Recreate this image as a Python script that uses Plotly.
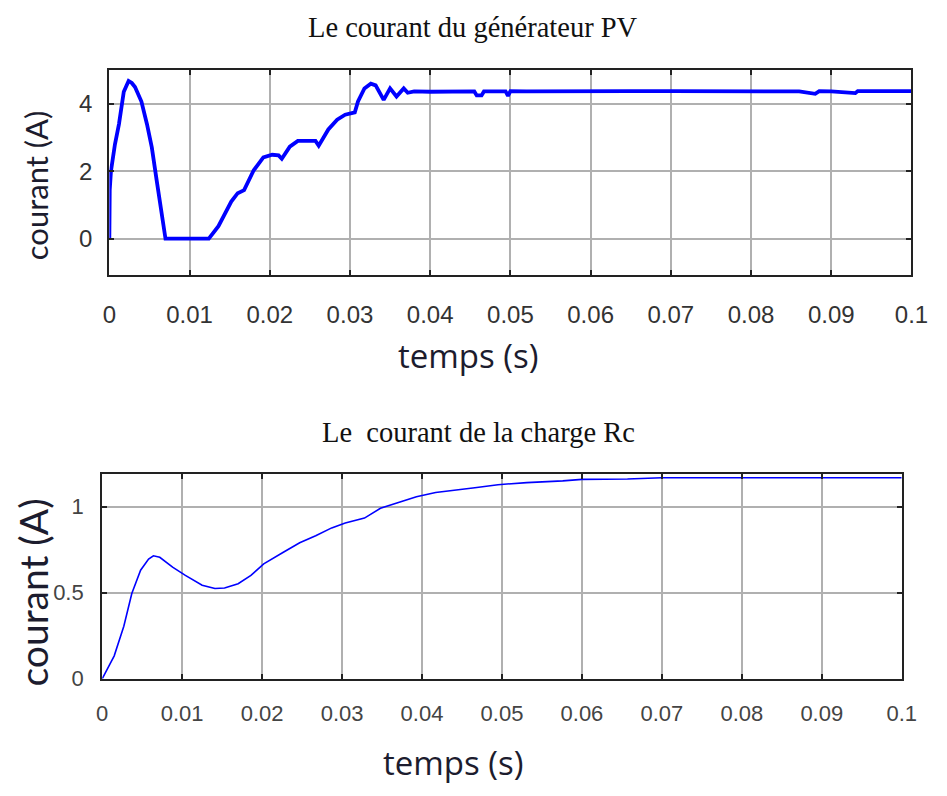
import plotly.graph_objects as go

# ---- Top chart: courant du générateur PV ----
t_pv = [0.0, 0.0, 0.00005, 0.0002, 0.0007, 0.0012, 0.0018, 0.0024, 0.0028, 0.0032,
        0.0040, 0.0047, 0.0053, 0.0059, 0.0065, 0.0070, 0.0124, 0.0136, 0.0152,
        0.0160, 0.0168, 0.0180, 0.0192, 0.0203, 0.0211, 0.0215, 0.0225, 0.0235,
        0.0257, 0.0261, 0.0273, 0.0284, 0.0294, 0.0306, 0.0310, 0.0318, 0.0326,
        0.0332, 0.0342, 0.0350, 0.0358, 0.0367, 0.0372, 0.0380, 0.0400, 0.0420,
        0.0440, 0.0455, 0.0458, 0.0464, 0.0467, 0.0480, 0.0494, 0.0497, 0.0500,
        0.0520, 0.0560, 0.0600, 0.0650, 0.0700, 0.0750, 0.0800, 0.0860, 0.0880,
        0.0885, 0.0900, 0.0930, 0.0933, 0.0960, 0.1000]
i_pv = [0.0, 0.75, 1.45, 2.0, 2.8, 3.4, 4.36, 4.68, 4.62, 4.5,
        4.07, 3.39, 2.7, 1.73, 0.86, 0.0, 0.0, 0.37, 1.1,
        1.35, 1.44, 2.03, 2.41, 2.49, 2.47, 2.37, 2.73, 2.9,
        2.9, 2.76, 3.24, 3.53, 3.68, 3.75, 4.07, 4.46, 4.6,
        4.55, 4.12, 4.46, 4.22, 4.46, 4.33, 4.37, 4.36, 4.37,
        4.36, 4.37, 4.25, 4.25, 4.37, 4.36, 4.37, 4.24, 4.38,
        4.37, 4.38, 4.37, 4.38, 4.38, 4.37, 4.38, 4.37, 4.30,
        4.38, 4.37, 4.32, 4.38, 4.37, 4.38]

# ---- Bottom chart: courant de la charge Rc ----
t_rc = [0.0, 0.0015, 0.0027, 0.0037, 0.0048, 0.0058, 0.0064, 0.0072, 0.0088,
        0.0104, 0.0125, 0.0141, 0.0153, 0.0170, 0.0186, 0.0202, 0.0226, 0.0247,
        0.0267, 0.0287, 0.0304, 0.0328, 0.0348, 0.0369, 0.0393, 0.0417, 0.0442,
        0.0466, 0.0495, 0.0531, 0.0576, 0.0600, 0.0657, 0.0700, 0.0800, 0.0900,
        0.1000]
i_rc = [0.0, 0.133, 0.305, 0.495, 0.63, 0.695, 0.714, 0.705, 0.648,
        0.60, 0.543, 0.524, 0.527, 0.552, 0.60, 0.667, 0.733, 0.79,
        0.83, 0.876, 0.905, 0.933, 0.99, 1.02, 1.057, 1.082, 1.095,
        1.109, 1.127, 1.139, 1.149, 1.158, 1.16, 1.167, 1.167, 1.167,
        1.167]

x_ticks = [0, 0.01, 0.02, 0.03, 0.04, 0.05, 0.06, 0.07, 0.08, 0.09, 0.1]
x_ticklabels = ["0", "0.01", "0.02", "0.03", "0.04", "0.05", "0.06", "0.07", "0.08", "0.09", "0.1"]
y_ticks_pv = [0, 2, 4]
y_ticks_rc = [0, 0.5, 1]

title_pv = "Le courant du générateur PV"
title_rc = "Le\u00a0 courant de la charge Rc"
ylabel = "courant (A)"
xlabel = "temps (s)"

W, H = 947, 796
def fx(px): return px / W
def fy(py): return 1 - py / H

fig = go.Figure()
fig.add_trace(go.Scatter(x=t_pv, y=i_pv, mode="lines", xaxis="x", yaxis="y",
                         line=dict(color="#0000ff", width=3.8), showlegend=False))
fig.add_trace(go.Scatter(x=t_rc, y=i_rc, mode="lines", xaxis="x2", yaxis="y2",
                         line=dict(color="#0000ff", width=1.6), showlegend=False))

axis_common = dict(showgrid=True, gridcolor="#b0b0b0", gridwidth=1.5,
                   showline=True, linecolor="#222222", linewidth=2.2, mirror="allticks",
                   ticks="inside", ticklen=5, tickcolor="#222222", tickwidth=1.5,
                   zeroline=False)

tick_font_top = dict(family="Liberation Sans, Arial", size=24, color="#333333")
tick_font_bot = dict(family="Liberation Sans, Arial", size=22, color="#444444")

fig.update_layout(
    width=W, height=H,
    margin=dict(l=0, r=0, t=0, b=0),
    paper_bgcolor="white", plot_bgcolor="white",
    xaxis=dict(domain=[fx(105), fx(928)], range=[0, 0.1], anchor="y",
               tickvals=x_ticks, ticktext=x_ticklabels, tickfont=tick_font_top,
               ticklabelstandoff=17, **axis_common),
    yaxis=dict(domain=[fy(280), fy(71)], range=[-1.09, 5.01], anchor="x",
               tickvals=y_ticks_pv, tickfont=tick_font_top, ticklabelstandoff=10,
               **axis_common),
    xaxis2=dict(domain=[fx(97.7), fx(918)], range=[0, 0.1], anchor="y2",
                tickvals=x_ticks, ticktext=x_ticklabels, tickfont=tick_font_bot,
                ticklabelstandoff=14, **axis_common),
    yaxis2=dict(domain=[fy(690), fy(481.7)], range=[0, 1.19], anchor="x2",
                tickvals=y_ticks_rc, tickfont=tick_font_bot, ticklabelstandoff=12,
                **axis_common),
)

text_col = "#1c1c2e"
serif = "Liberation Serif, Times New Roman, serif"
ann = [
    dict(text=title_pv, x=fx(478), y=fy(28), font=dict(family=serif, size=28.5, color="#111")),
    dict(text=title_rc, x=fx(484), y=fy(440), font=dict(family=serif, size=28.5, color="#111")),
    dict(text=ylabel, x=fx(30), y=fy(188), textangle=-90, font=dict(family="Lato", size=31, color=text_col)),
    dict(text=ylabel, x=fx(27), y=fy(602), textangle=-90, font=dict(family="Lato", size=39, color=text_col)),
    dict(text=xlabel, x=fx(473), y=fy(361), font=dict(family="Open Sans", size=33, color=text_col)),
    dict(text=xlabel, x=fx(458), y=fy(775), font=dict(family="Open Sans", size=33, color=text_col)),
]
for a in ann:
    a.update(xref="paper", yref="paper", showarrow=False, xanchor="center", yanchor="middle")
fig.update_layout(annotations=ann)

fig.write_html("out.html")
